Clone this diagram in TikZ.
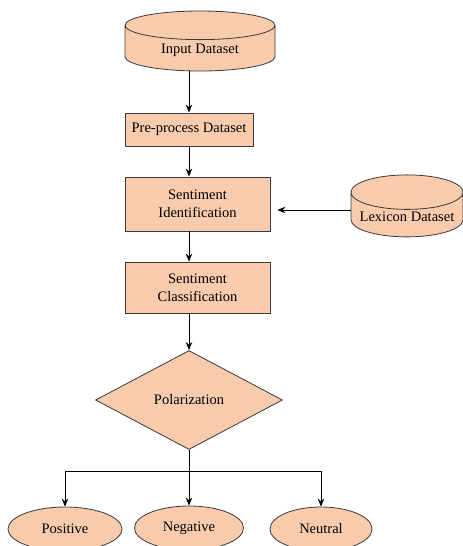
\documentclass[tikz,border=0pt]{standalone}
\usepackage{fontspec}
\setmainfont{Liberation Serif}
\usetikzlibrary{shapes.geometric,arrows.meta}
\definecolor{peach}{HTML}{F8CBAD}
\definecolor{edge}{HTML}{3A3A3A}

\begin{document}
\begin{tikzpicture}[>={Stealth[length=8pt,width=6.5pt]},x=1pt,y=-1pt,
    font=\fontsize{14.5}{18}\selectfont,
    stepbox/.style={draw=edge,fill=peach,line width=0.8pt,align=center,inner sep=2pt},
    dbase/.style={stepbox,cylinder,shape border rotate=90,aspect=0.35},
    outcome/.style={stepbox,ellipse,minimum height=44},
    link/.style={->,line width=1pt}]
    \useasboundingbox (0,0) rectangle (463,546);

    \node[dbase,minimum width=150,minimum height=60] (input) at (200,50) {Input Dataset};
    \node[stepbox,minimum width=128,minimum height=33] (prep) at (189,129.5) {Pre-process Dataset};
    \node[stepbox,minimum width=145,minimum height=54] (ident) at (197.5,204) {Sentiment\\Identification};
    \node[stepbox,minimum width=145,minimum height=51] (class) at (197.5,287.5) {Sentiment\\Classification};
    \node[dbase,minimum width=112,minimum height=62] (lex) at (407,217) {Lexicon Dataset};
    \node[stepbox,diamond,minimum width=187,minimum height=99,inner sep=0pt] (pol) at (189,400) {Polarization};
    \node[outcome,minimum width=114] (pos) at (65,529) {Positive};
    \node[outcome,minimum width=109] (neg) at (189,528) {Negative};
    \node[outcome,minimum width=102] (neu) at (321,529) {Neutral};

    \draw[link] (prep.north |- input.south) -- (prep.north);
    \draw[link] (prep.south) -- (prep.south |- ident.north);
    \draw[link] (prep.south |- ident.south) -- (prep.south |- class.north);
    \draw[link] (pol.north |- class.south) -- (pol.north);
    \draw[link,shorten >=7pt] ([yshift=7pt]lex.west) -- ([yshift=7pt]lex.west -| ident.east);

    \coordinate (split) at (189,471);
    \draw[line width=1pt] (pol.south) -- (split);
    \draw[link] (split) -| (pos.north);
    \draw[link] (split) -- (neg.north);
    \draw[link] (split) -| (neu.north);
\end{tikzpicture}
\end{document}
